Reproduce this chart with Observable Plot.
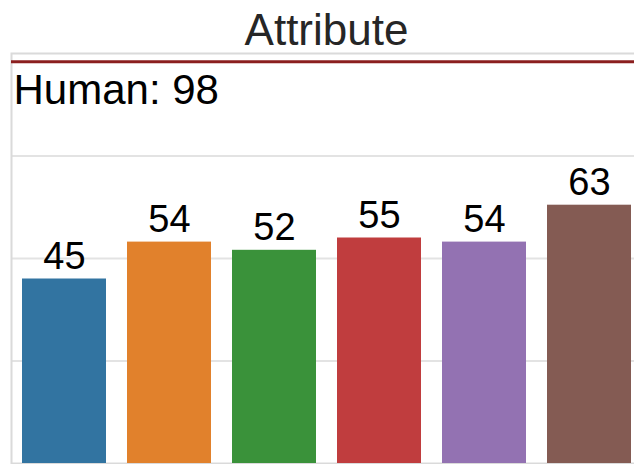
<!DOCTYPE html>
<html>
<head>
<meta charset="utf-8">
<script src="https://cdn.jsdelivr.net/npm/d3@7"></script>
<script src="https://cdn.jsdelivr.net/npm/@observablehq/plot@0.6"></script>
<style>
  html, body { margin: 0; padding: 0; background: #fff; }
</style>
</head>
<body>
<div id="chart"></div>
<script>
const title = "Attribute";
const models = ["M1", "M2", "M3", "M4", "M5", "M6"];
const scores = [45, 54, 52, 55, 54, 63];
const colors = ["#3274a1", "#e1812c", "#3a923a", "#c03d3e", "#9372b2", "#845b53"];
const humanScore = [98];
const humanLabel = ["Human: 98"];
const gridTicks = [25, 50, 75];

const data = models.map((m, i) => ({model: m, score: scores[i], color: colors[i]}));

const chart = Plot.plot({
  width: 634,
  height: 464,
  marginTop: 53,
  marginBottom: 1,
  marginLeft: 11,
  marginRight: -7,
  style: {fontFamily: "'Liberation Sans', Arial, sans-serif", background: "#fff"},
  x: {domain: models, paddingInner: 0.2, paddingOuter: 0.1, axis: null},
  y: {domain: [0, 100], axis: null},
  marks: [
    Plot.ruleY(gridTicks, {stroke: "#e3e3e3", strokeWidth: 2}),
    Plot.frame({stroke: "#dadada", strokeWidth: 2}),
    Plot.barY(data, {x: "model", y: "score", fill: "color"}),
    Plot.text(data, {x: "model", y: "score", text: d => String(d.score), lineAnchor: "bottom", dy: -10, fontSize: 38, fill: "#000"}),
    Plot.ruleY(humanScore, {stroke: "#8b1f1f", strokeWidth: 3}),
    Plot.text(humanLabel, {y: () => humanScore[0], frameAnchor: "left", textAnchor: "start", dx: 2, lineAnchor: "top", dy: 12, fontSize: 42, fill: "#000"}),
    Plot.text([title], {frameAnchor: "top", lineAnchor: "bottom", dy: -9, fontSize: 44, fill: "#262626"})
  ]
});
document.getElementById("chart").appendChild(chart);
</script>
</body>
</html>
